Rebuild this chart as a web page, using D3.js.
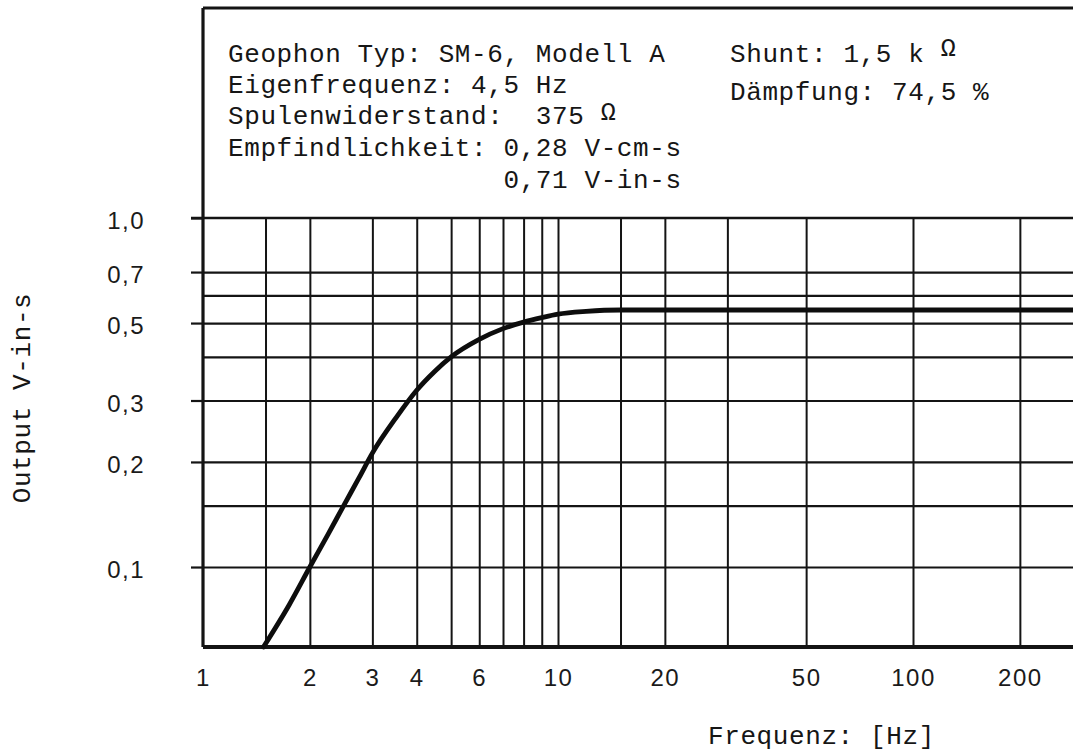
<!DOCTYPE html>
<html>
<head>
<meta charset="utf-8">
<script src="https://cdn.jsdelivr.net/npm/d3@7"></script>
<style>
  body { margin: 0; background: #fff; }
  svg { display: block; }
  .tw { font-family: 'Liberation Mono', 'DejaVu Sans Mono', monospace; font-size: 26px; letter-spacing: 0.6px; fill: #161616; }
  .tick-lbl { font-family: 'Liberation Sans', Arial, sans-serif; font-size: 24px; letter-spacing: 1.5px; fill: #1a1a1a; }
</style>
</head>
<body>
<div id="chart"></div>
<script>
// Geophone response curve (SM-6)

// curve
const freqs  = [1.48, 1.75, 2, 2.25, 2.5, 2.75, 3, 3.5, 4, 4.5, 5, 6, 7, 8, 9, 10, 12, 15, 20, 30, 50, 100, 200, 300];
const output = [0.059, 0.078, 0.100, 0.124, 0.151, 0.180, 0.212, 0.268, 0.321, 0.364, 0.400, 0.449, 0.482, 0.503, 0.518, 0.530, 0.540, 0.545, 0.545, 0.545, 0.545, 0.545, 0.545, 0.545];

// grid and tick values
const xGridVals  = [1.5, 2, 3, 4, 5, 6, 7, 8, 9, 10, 15, 20, 30, 50, 100, 200];
const xLabelVals = [1, 2, 3, 4, 6, 10, 20, 50, 100, 200];
const yGridVals  = [0.7, 0.6, 0.5, 0.4, 0.3, 0.2, 0.15, 0.1];
const yLabelVals = [1.0, 0.7, 0.5, 0.3, 0.2, 0.1];
const xDomain = [1, 300];
const yDomain = [0.059, 1];

// header text
const infoLeft = [
  'Geophon Typ: SM-6, Modell A',
  'Eigenfrequenz: 4,5 Hz',
  'Spulenwiderstand:  375 ',
  'Empfindlichkeit: 0,28 V-cm-s',
  '                 0,71 V-in-s'
];
const infoRight = ['Shunt: 1,5 k ', 'Dämpfung: 74,5 %'];

const W = 1073, H = 756;
const plotLeft = 203, plotTop = 218, plotBottom = 647, boxTop = 8;
const dec = 355; // px per decade on x

const svg = d3.select('#chart').append('svg')
  .attr('width', W).attr('height', H);

const x = d3.scaleLog().domain(xDomain)
  .range([plotLeft, plotLeft + dec * Math.log10(xDomain[1])]);
const y = d3.scaleLog().domain(yDomain).range([plotBottom, plotTop]);

const ink = '#141414';

// vertical grid
svg.append('g')
  .attr('transform', `translate(0,${plotBottom})`)
  .call(d3.axisBottom(x).tickValues(xGridVals).tickSize(-(plotBottom - plotTop)).tickFormat(''))
  .call(g => g.select('.domain').remove())
  .call(g => g.selectAll('line').attr('stroke', ink).attr('stroke-width', 2));

// horizontal grid
svg.append('g')
  .attr('transform', `translate(${plotLeft},0)`)
  .call(d3.axisLeft(y).tickValues(yGridVals).tickSize(-(W - plotLeft)).tickFormat(''))
  .call(g => g.select('.domain').remove())
  .call(g => g.selectAll('line').attr('stroke', ink).attr('stroke-width', 2.2));

// labelled y ticks, sticking out left of frame
svg.append('g')
  .attr('transform', `translate(${plotLeft},0)`)
  .call(d3.axisLeft(y).tickValues(yLabelVals).tickSize(12).tickPadding(46)
    .tickFormat(d => d3.format('.1f')(d).replace('.', ',')))
  .call(g => g.select('.domain').remove())
  .call(g => g.selectAll('line').attr('stroke', ink).attr('stroke-width', 2.2))
  .call(g => g.selectAll('text').attr('class', 'tick-lbl').attr('dy', '0.45em'));

// x labels
svg.append('g')
  .attr('transform', `translate(0,${plotBottom})`)
  .call(d3.axisBottom(x).tickValues(xLabelVals).tickSize(0).tickPadding(22).tickFormat(d3.format('d')))
  .call(g => g.select('.domain').remove())
  .call(g => g.selectAll('text').attr('class', 'tick-lbl'));

svg.selectAll('g').attr('font-size', null).attr('font-family', null);

// frame: header box top, left edge, plot top, plot bottom
const frame = svg.append('g').attr('stroke', ink).attr('fill', 'none');
frame.append('line').attr('x1', plotLeft).attr('x2', W).attr('y1', boxTop).attr('y2', boxTop).attr('stroke-width', 3);
frame.append('line').attr('x1', plotLeft).attr('x2', plotLeft).attr('y1', boxTop).attr('y2', plotBottom).attr('stroke-width', 3.2);
frame.append('line').attr('x1', plotLeft - 12).attr('x2', W).attr('y1', y(1)).attr('y2', y(1)).attr('stroke-width', 2.6);
frame.append('line').attr('x1', plotLeft).attr('x2', W).attr('y1', plotBottom).attr('y2', plotBottom).attr('stroke-width', 4);

// response curve
const pts = freqs.map((f, i) => ({ f, v: output[i] }));
svg.append('path')
  .datum(pts)
  .attr('fill', 'none')
  .attr('stroke', '#0d0d0d')
  .attr('stroke-width', 4.8)
  .attr('stroke-linecap', 'round')
  .attr('d', d3.line().x(d => x(d.f)).y(d => y(d.v)).curve(d3.curveMonotoneX));

// header text
const lineY = [62, 93, 124, 156, 188];
const info = svg.append('g').attr('class', 'tw');
infoLeft.forEach((t, i) => {
  const tx = info.append('text').attr('x', 228).attr('y', lineY[i]).attr('xml:space', 'preserve').text(t);
  if (i === 2) tx.append('tspan').attr('font-size', 25).attr('dy', -4).text('Ω');
});
const sh = info.append('text').attr('x', 730).attr('y', lineY[0]).attr('xml:space', 'preserve').text(infoRight[0]);
sh.append('tspan').attr('font-size', 25).attr('dy', -6).text('Ω');
info.append('text').attr('x', 730).attr('y', 100).text(infoRight[1]);

// axis titles
svg.append('text').attr('class', 'tw')
  .attr('transform', 'translate(30,398) rotate(-90)')
  .attr('text-anchor', 'middle')
  .text('Output V-in-s');
svg.append('text').attr('class', 'tw')
  .attr('x', 708).attr('y', 744)
  .text('Frequenz: [Hz]');
</script>
</body>
</html>
